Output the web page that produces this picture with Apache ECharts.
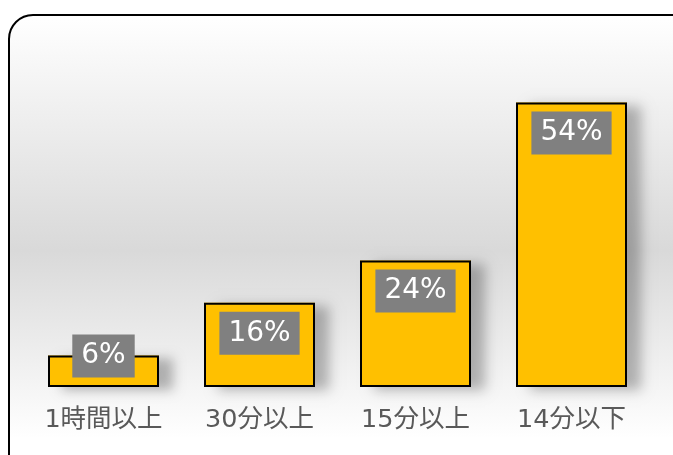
<!DOCTYPE html>
<html><head><meta charset="utf-8">
<script src="https://cdn.jsdelivr.net/npm/echarts@6/dist/echarts.min.js"></script>
<style>html,body{margin:0;padding:0;background:#fff}#c{width:673px;height:455px}</style>
</head><body><div id="c"></div>
<script>
const categories = ['1時間以上', '30分以上', '15分以上', '14分以下'];
const values = [6, 16, 24, 54];

const chart = echarts.init(document.getElementById('c'));
const labelBase = {
  show: true,
  position: 'insideTop',
  distance: 9,
  formatter: '{c}%',
  color: '#ffffff',
  fontSize: 28,
  fontFamily: 'DejaVu Sans',
  backgroundColor: '#808080',
  padding: [5, 9, 5, 9],
  lineHeight: 33
};
chart.setOption({
  animation: false,
  graphic: [{
    type: 'rect',
    z: -10,
    shape: { x: 9, y: 15, width: 700, height: 470, r: 24 },
    style: {
      fill: new echarts.graphic.LinearGradient(0, 0, 0, 1, [
        { offset: 0, color: '#ffffff' },
        { offset: 0.5, color: '#d9d9d9' },
        { offset: 0.9, color: '#ffffff' },
        { offset: 1, color: '#ffffff' }
      ]),
      stroke: '#000000',
      lineWidth: 2
    }
  }],
  grid: { left: 25.5, right: 23.5, top: 71, bottom: 68 },
  xAxis: {
    type: 'category',
    data: categories,
    axisLine: { show: false },
    axisTick: { show: false },
    axisLabel: { color: '#595959', fontSize: 25.5, margin: 21, fontFamily: 'DejaVu Sans, Noto Sans CJK JP' }
  },
  yAxis: {
    type: 'value', min: 0, max: 60,
    show: false,
    splitLine: { show: false }
  },
  series: [{
    type: 'bar',
    name: 'shadow',
    data: values,
    barWidth: 111,
    silent: true,
    z: 1,
    itemStyle: {
      color: '#FFC000',
      shadowColor: 'rgba(0,0,0,0.28)',
      shadowBlur: 12,
      shadowOffsetX: 14,
      shadowOffsetY: 3
    }
  }, {
    type: 'bar',
    name: 'value',
    data: values.map((v, i) => i === 0 ? { value: v, label: { position: 'insideTop', distance: -21 } } : v),
    barWidth: 111,
    barGap: '-100%',
    z: 2,
    itemStyle: {
      color: '#FFC000',
      borderColor: '#000000',
      borderWidth: 2
    },
    label: labelBase
  }]
});
</script></body></html>
